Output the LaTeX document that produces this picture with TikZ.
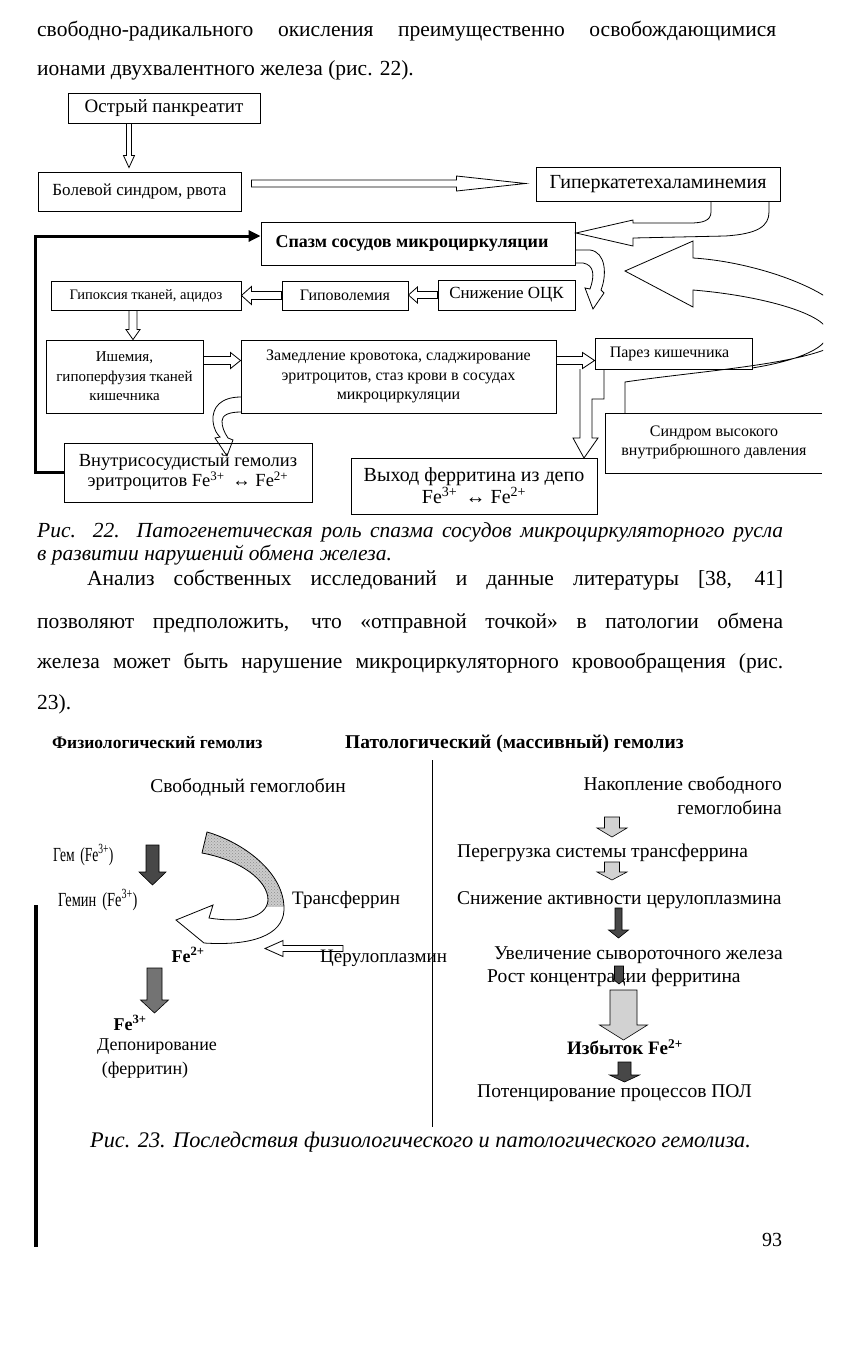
\documentclass[tikz,border=0pt]{standalone}
\usepackage{fontspec}
\setmainfont{Liberation Serif}
\usetikzlibrary{calc,arrows.meta,patterns}
\newcommand\fsz[1]{\fontsize{#1}{#1}\selectfont}
% block arrows (canvas coords): #2 tail, #3 tip, #4 shaft half, #5 head half, #6 head length
\newcommand\arrDown[6][]{\draw[#1] let \p1=#2,\p2=#3 in (\x1-#4,\y1) -- (\x1-#4,\y2+#6) -- (\x1-#5,\y2+#6) -- (\x1,\y2) -- (\x1+#5,\y2+#6) -- (\x1+#4,\y2+#6) -- (\x1+#4,\y1) -- cycle;}
\newcommand\arrRight[6][]{\draw[#1] let \p1=#2,\p2=#3 in (\x1,\y1+#4) -- (\x2-#6,\y1+#4) -- (\x2-#6,\y1+#5) -- (\x2,\y1) -- (\x2-#6,\y1-#5) -- (\x2-#6,\y1-#4) -- (\x1,\y1-#4) -- cycle;}
\newcommand\arrLeft[6][]{\draw[#1] let \p1=#2,\p2=#3 in (\x1,\y1+#4) -- (\x2+#6,\y1+#4) -- (\x2+#6,\y1+#5) -- (\x2,\y1) -- (\x2+#6,\y1-#5) -- (\x2+#6,\y1-#4) -- (\x1,\y1-#4) -- cycle;}
\begin{document}
\begin{tikzpicture}[x=1pt,y=-1pt,
  every node/.style={inner sep=0pt},
  box/.style={draw, line width=0.9pt, align=center},
  hol/.style={draw, line width=0.8pt, line join=miter},
  dk/.style={draw, line width=0.6pt, fill=black!72},
  lt/.style={draw, line width=0.6pt, fill=gray!35},
  txt/.style={font=\fsz{21.5}},
  ftxt/.style={font=\fsz{19.5}},
]
\path[use as bounding box, fill=white] (0,0) rectangle (856,1350);

% ---------- top paragraph ----------
\node[anchor=base west, txt] (t1) at (37,36) {\makebox[739pt][s]{свободно-радикального окисления преимущественно освобождающимися}};
\node[anchor=base west, txt] (t2) at (37,75) {ионами двухвалентного железа (рис. 22).};

% ---------- figure 22 ----------
\node[box, minimum width=192pt, minimum height=30pt, font=\fsz{19}] (ostr) at (164,108) {Острый панкреатит};
\node[box, minimum width=203pt, minimum height=39pt, font=\fsz{17}] (bol) at (139.5,191.5) {Болевой синдром, рвота};
\node[box, minimum width=244pt, minimum height=34pt, font=\fsz{20}] (giper) at (658,184) {Гиперкатетехаламинемия};
\node[box, minimum width=314pt, minimum height=43pt, font=\fsz{18}\bfseries] (spazm) at (418,243.5) {Спазм сосудов микроциркуляции\hspace{12pt}};
\node[box, minimum width=190pt, minimum height=29pt, font=\fsz{14.5}] (gipoks) at (146,295.5) {Гипоксия тканей, ацидоз};
\node[box, minimum width=126pt, minimum height=29pt, font=\fsz{16}] (gipovol) at (345,295.5) {Гиповолемия};
\node[box, minimum width=137pt, minimum height=30pt, font=\fsz{17}] (sniz) at (506.5,295) {Снижение ОЦК};
\node[box, minimum width=157pt, minimum height=73pt, font=\fontsize{15}{19.5}\selectfont] (ishem) at (124.5,376.5) {Ишемия,\\гипоперфузия тканей\\кишечника};
\node[box, minimum width=315pt, minimum height=73pt, font=\fontsize{16}{19.5}\selectfont] (zamed) at (398.5,376.5) {Замедление кровотока, сладжирование\\эритроцитов, стаз крови в сосудах\\микроциркуляции};
\node[box, minimum width=157pt, minimum height=31pt, font=\fsz{16}] (parez) at (673.5,353.5) {Парез кишечника\hspace{8pt}};
\node[box, minimum width=248pt, minimum height=59pt, font=\fontsize{18.5}{20}\selectfont] (vnutr) at (188,472.5) {Внутрисосудистый гемолиз\\эритроцитов Fe\textsuperscript{3+} \,↔ Fe\textsuperscript{2+}};
\node[box, minimum width=246pt, minimum height=56pt, font=\fontsize{20}{20}\selectfont] (vyhod) at (474,486) {Выход ферритина из депо\\Fe\textsuperscript{3+} \,↔ Fe\textsuperscript{2+}};
\draw[line width=0.9pt] (822,413) -- (605,413) -- (605,473) -- (822,473);
\node[align=center, font=\fontsize{16}{19}\selectfont] (sindrom) at (714,442) {Синдром высокого\\внутрибрюшного давления};

% straight hollow arrows
\arrDown[hol]{($(ostr.south)+(-35,0)$)}{($(bol.north)+(0,-4)$)}{2.5pt}{5.5pt}{12pt}
\arrRight[hol]{($(bol.east)+(10,-8)$)}{($(giper.west)+(-10,0)$)}{3.5pt}{7.5pt}{69pt}
\arrLeft[hol]{(sniz.west)}{(gipovol.east)}{3.5pt}{8pt}{9pt}
\arrLeft[hol]{(gipovol.west)}{(gipoks.east)}{4pt}{9pt}{10pt}
\arrDown[hol]{($(gipoks.south)+(-13,0)$)}{(ishem.north)}{4pt}{7pt}{10pt}
\arrRight[hol]{($(ishem.east)+(0,-16)$)}{(zamed.west)}{4pt}{8pt}{10pt}
\arrRight[hol]{($(zamed.east)+(0,-16)$)}{(parez.west)}{4pt}{8pt}{12pt}

% curved hollow arrows
\draw[hol] (711,201) -- (711,212) .. controls (711,221) and (702,223) .. (690,223) -- (633,223) -- (633,220) -- (576,233) -- (633,246) -- (633,238) -- (725,236) .. controls (758,234) and (769,226) .. (769,212) -- (769,201);
\draw[hol] (575,250) -- (590,250) .. controls (606,252) and (607,275) .. (601,290) -- (604,293) -- (593,309) -- (585,288) -- (590,289) .. controls (595,275) and (594,265) .. (583,263) -- (575,263);
\draw[hol] (241,397) .. controls (221,397) and (212,407) .. (213,421) .. controls (214,430) and (217,434) .. (220,437) -- (215,438) -- (227,456) -- (233,440) -- (228,438) .. controls (224,432) and (222,427) .. (222,421) .. controls (222,415) and (229,412) .. (241,412);
\draw[hol] (580,369) -- (580,438) -- (573,438) -- (584,458) -- (598,438) -- (592,438) -- (592,399) -- (604,399) -- (604,369);
\begin{scope}
\clip (0,0) rectangle (823,1350);
\draw[hol] (625,413) -- (625,382) .. controls (720,368) and (850,362) .. (850,327) .. controls (850,295) and (760,262) .. (693,258) -- (693,241) -- (625,271) -- (693,307) -- (693,290) .. controls (765,296) and (828,315) .. (828,333) .. controls (828,350) and (790,362) .. (752,368);
\end{scope}

% thick feedback line
\coordinate (fbk) at (35,236);
\draw[line width=3pt, line join=miter, -{Triangle[length=12pt,width=11pt]}] (vnutr.west) -| (fbk) -- ($(spazm.west)+(0,-7.5)$);

% ---------- captions and paragraph ----------
\node[anchor=base west, font=\fsz{21.5}\itshape] (cap22a) at (37,537) {\makebox[746pt][s]{Рис. 22. Патогенетическая роль спазма сосудов микроциркуляторного русла}};
\node[anchor=base west, font=\fsz{21.5}\itshape] (cap22b) at (37,560) {в развитии нарушений обмена железа.};
\node[anchor=base west, txt] (p1) at (87,585) {\makebox[696pt][s]{Анализ собственных исследований и данные литературы [38, 41]}};
\node[anchor=base west, txt] (p2) at (37,628) {\makebox[746pt][s]{позволяют предположить, что «отправной точкой» в патологии обмена}};
\node[anchor=base west, txt] (p3) at (37,668) {\makebox[746pt][s]{железа может быть нарушение микроциркуляторного кровообращения (рис.}};
\node[anchor=base west, txt] (p4) at (37,709) {23).};

% ---------- figure 23 ----------
\node[anchor=base west, font=\fsz{17.5}\bfseries] (h1) at (52,748) {Физиологический гемолиз};
\node[anchor=base west, font=\fsz{19.5}\bfseries] (h2) at (345,748) {Патологический (массивный) гемолиз};
\draw[line width=1pt] (432,760) -- (432,1127);

\node[ftxt] (svob) at (248,787) {Свободный гемоглобин};
\node[anchor=west] (gem) at (53,855) {\scalebox{0.68}[1]{\fsz{20}Гем \,(Fe\textsuperscript{3+})}};
\node[anchor=west] (gemin) at (58,900) {\scalebox{0.72}[1]{\fsz{20}Гемин \,(Fe\textsuperscript{3+})}};
\node[anchor=west, font=\fsz{19}] (transf) at (292,900) {Трансферрин};
\node[font=\fsz{18}\bfseries] (fe2) at (188,955) {Fe\textsuperscript{2+}};
\arrLeft[hol]{(343,948.5)}{(265,948.5)}{3pt}{8pt}{18pt}
\node[anchor=west, font=\fsz{19}] (cerul) at (320,958) {Церулоплазмин};
\node[font=\fsz{18}\bfseries] (fe3) at (130,1023) {Fe\textsuperscript{3+}};
\node[font=\fsz{18}] (depon) at (157,1047) {Депонирование};
\node[font=\fsz{18}] (ferr) at (145,1070) {(ферритин)};

\arrDown[dk]{(152.5,845)}{(152.5,885)}{6.5pt}{13.5pt}{13pt}
\arrDown[dk,fill=black!55]{(154.5,968)}{(154.5,1013)}{7.5pt}{14pt}{13pt}

% curved band arrow
\def\band{(207,832) .. controls (242,842) and (285,872) .. (284,910) .. controls (283,936) and (250,946) .. (204,943) -- (176,920) -- (213,905) -- (209,918) .. controls (240,923) and (267,918) .. (268,900) .. controls (268,880) and (240,860) .. (202,853) -- cycle}
\fill[white] \band;
\begin{scope}
\clip (0,700) rectangle (856,906);
\fill[gray!40] \band;
\fill[pattern=crosshatch dots, pattern color=black!45] \band;
\end{scope}
\draw[line width=0.8pt] \band;

% right column
\node[anchor=east, ftxt] (nak1) at (782,785) {Накопление свободного};
\node[anchor=east, ftxt] (nak2) at (782,808) {гемоглобина};
\node[anchor=west, ftxt] (pereg) at (457,853) {Перегрузка системы трансферрина};
\node[anchor=west, ftxt] (sniz2) at (457,900) {Снижение активности церулоплазмина};
\node[anchor=east, ftxt] (uvel) at (783,955) {Увеличение сывороточного железа};
\node[anchor=west, ftxt] (rost) at (487,978) {Рост концентрации ферритина};
\node[font=\fsz{19}\bfseries] (izb) at (625,1047) {Избыток Fe\textsuperscript{2+}};
\node[ftxt] (potenc) at (614.5,1093) {Потенцирование процессов ПОЛ};

\arrDown[lt]{(612,817)}{(612,837)}{7.5pt}{15pt}{9pt}
\arrDown[lt]{(612,862)}{(612,880)}{7.5pt}{15pt}{8pt}
\arrDown[dk]{(618.5,908)}{(618.5,938)}{3.5pt}{10pt}{8pt}
\arrDown[dk]{(619,966)}{(619,984)}{4.5pt}{6pt}{5pt}
\arrDown[lt]{(623.5,990)}{(623.5,1040)}{13.5pt}{24pt}{15pt}
\arrDown[dk]{(624.5,1062)}{(624.5,1082)}{6.5pt}{15pt}{7pt}

\node[anchor=base west, font=\fsz{22.3}\itshape] (cap23) at (90,1147) {Рис. 23. Последствия физиологического и патологического гемолиза.};
\node[font=\fsz{20}] (pg) at (772,1240) {93};
\draw[line width=3.5pt] (36,905) -- (36,1247);
\end{tikzpicture}
\end{document}
